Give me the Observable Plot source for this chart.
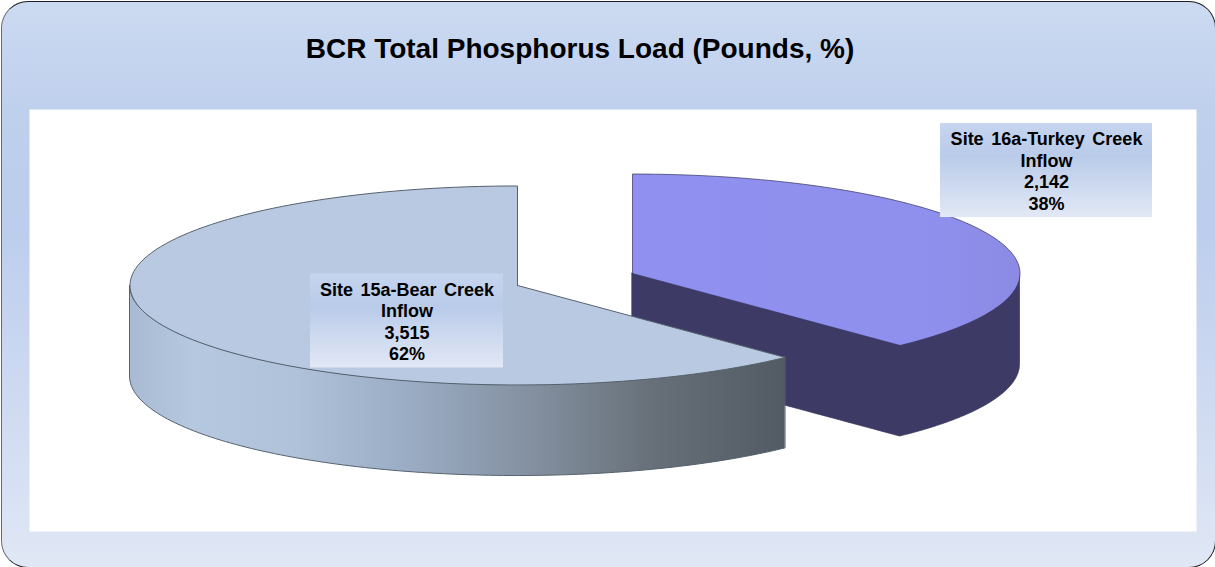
<!DOCTYPE html>
<html>
<head>
<meta charset="utf-8">
<script src="https://cdn.jsdelivr.net/npm/d3@7"></script>
<script src="https://cdn.jsdelivr.net/npm/@observablehq/plot@0.6"></script>
<style>
  html, body { margin: 0; padding: 0; background: #fff; width: 1215px; height: 567px; overflow: hidden; }
  #panel {
    position: absolute; left: 1px; top: 1px; width: 1215px; height: 567px; box-sizing: border-box;
    border-radius: 27px;
    border: 1.2px solid #1c1c22; border-left-color: #666a72;
    background: linear-gradient(180deg, #ccdaf1 0%, #bfd0ed 19%, #bccded 40%, #e0e7f5 100%);
  }
  #title {
    position: absolute; left: 0; top: 33px; width: 1160px; margin: 0; text-align: center;
    font: bold 28px "Liberation Sans", Arial, sans-serif; color: #000; line-height: 32px;
  }
  #chart { position: absolute; left: 0; top: 0; }
  #chart svg { background: transparent; display: block; }
</style>
</head>
<body>
<div id="panel"></div>
<h1 id="title">BCR Total Phosphorus Load (Pounds, %)</h1>
<div id="chart"></div>
<script>
// ---- data ----
const sites = ["Site 16a-Turkey Creek\nInflow", "Site 15a-Bear Creek\nInflow"];
const loads = [2142, 3515];

// ---- look ----
const topFill = ["url(#blueTop)", "#b8c9e1"];
const rimStroke = ["#34345c", "#56626e"];
const offsetX = [0.1484, -0.1484];
const offsetY = [0.06, -0.06];
const labelX = [1.2168, -0.4335];
const labelY = [1.095, -0.417];
const labelHalfW = [0.2735, 0.249];
const labelHalfH = 0.4724;
const depth = 0.915;

const total = d3.sum(loads);
const fmtN = d3.format(",");
const fmtP = d3.format(".0%");
const sweep = loads[0] / total * 2 * Math.PI; // first slice runs clockwise from 12 o'clock

const rimPoint = (i, a) => ({x: offsetX[i] + Math.sin(a), y: offsetY[i] + Math.cos(a)});
const arc = (i, a0, a1) => d3.range(0, 121).map(k => rimPoint(i, a0 + (a1 - a0) * k / 120));

// top faces
const top0 = [{x: offsetX[0], y: offsetY[0]}, ...arc(0, 0, sweep), {x: offsetX[0], y: offsetY[0]}];
const top1 = [{x: offsetX[1], y: offsetY[1]}, ...arc(1, sweep, 2 * Math.PI), {x: offsetX[1], y: offsetY[1]}];

// walls: rim and the same rim lowered by the depth
const wall = pts => pts.map(p => ({x: p.x, y1: p.y, y2: p.y - depth}));
const outer0 = wall(arc(0, Math.PI / 2, sweep));
const outer1 = wall(arc(1, sweep, 3 * Math.PI / 2));
const end0 = rimPoint(0, sweep);
const cut0 = wall(d3.range(0, 41).map(k => ({
  x: offsetX[0] + (end0.x - offsetX[0]) * k / 40,
  y: offsetY[0] + (end0.y - offsetY[0]) * k / 40
})));

const labels = sites.map((s, i) => ({
  text: `${s}\n${fmtN(loads[i])}\n${fmtP(loads[i] / total)}`,
  x: labelX[i], y: labelY[i],
  x1: labelX[i] - labelHalfW[i], x2: labelX[i] + labelHalfW[i],
  y1: labelY[i] - labelHalfH, y2: labelY[i] + labelHalfH
}));

function defs() {
  const svg = d3.create("svg:defs");
  const grad = (id, stops, v) => {
    const g = svg.append("linearGradient").attr("id", id)
      .attr("x1", 0).attr("y1", 0).attr("x2", v ? 0 : 1).attr("y2", v ? 1 : 0);
    stops.forEach(([o, c]) => g.append("stop").attr("offset", o).attr("stop-color", c));
  };
  grad("grayWall", [[0, "#a9bbd2"], [0.1, "#b6c8e0"], [0.25, "#b0c2da"], [0.42, "#9badc5"], [0.62, "#838f9f"], [0.8, "#677079"], [1, "#525a63"]]);
  grad("blueTop", [[0, "#9090f0"], [0.75, "#8f8fee"], [1, "#8b8be4"]]);
  grad("labelBg", [[0, "#c6d5ef"], [0.35, "#b9cbe9"], [1, "#e2e8f5"]], true);
  return svg.node();
}

const plot = Plot.plot({
  width: 1215, height: 567,
  marginLeft: 29, marginRight: 19, marginTop: 109, marginBottom: 36,
  style: {wordSpacing: "2.5px"},
  x: {domain: [-1, 1], range: [187, 962], axis: null},
  y: {domain: [-1, 1], range: [378.5, 179.5], axis: null},
  marks: [
    Plot.frame({fill: "white", stroke: "none"}),
    defs,
    // blue slice
    Plot.areaY(cut0, {x: "x", y1: "y1", y2: "y2", fill: "#3d3b66", stroke: rimStroke[0], strokeWidth: 0.7}),
    Plot.areaY(outer0, {x: "x", y1: "y1", y2: "y2", fill: "#3d3b66", stroke: rimStroke[0], strokeWidth: 0.7}),
    Plot.line(top0, {x: "x", y: "y", fill: topFill[0], stroke: rimStroke[0], strokeWidth: 0.7}),
    // grey slice
    Plot.areaY(outer1, {x: "x", y1: "y1", y2: "y2", fill: "url(#grayWall)", stroke: rimStroke[1], strokeWidth: 1}),
    Plot.line(top1, {x: "x", y: "y", fill: topFill[1], stroke: rimStroke[1], strokeWidth: 1}),
    // labels
    Plot.rect(labels, {x1: "x1", x2: "x2", y1: "y1", y2: "y2", fill: "url(#labelBg)"}),
    Plot.text(labels, {
      x: "x", y: "y", text: "text", lineHeight: 1.19, dy: 0,
      fontFamily: "Liberation Sans, Arial, sans-serif", fontWeight: "bold", fontSize: 18, fill: "#000"
    })
  ]
});
document.getElementById("chart").appendChild(plot);
</script>
</body>
</html>
